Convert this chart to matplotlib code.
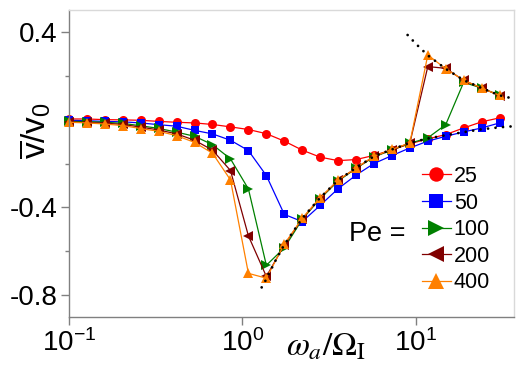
import matplotlib
matplotlib.use("Agg")
import matplotlib.pyplot as plt
from matplotlib.ticker import FixedLocator, NullLocator, NullFormatter

plt.rcParams['font.family'] = ['Liberation Sans', 'DejaVu Sans']
plt.rcParams['mathtext.fontset'] = 'custom'
plt.rcParams['mathtext.rm'] = 'Liberation Sans'
plt.rcParams['mathtext.it'] = 'Liberation Sans:italic'
plt.rcParams['mathtext.bf'] = 'Liberation Sans:bold'
plt.rcParams['axes.unicode_minus'] = False

# ---- data ----
omega = [0.1, 0.1269, 0.1611, 0.2045, 0.2595, 0.3294, 0.418, 0.531, 0.673, 0.855,
         1.085, 1.377, 1.748, 2.218, 2.815, 3.573, 4.535, 5.756, 7.305, 9.272,
         11.77, 14.93, 18.95, 24.06, 30.53]

pe_labels = ['25', '50', '100', '200', '400']

v_pe25 = [0.003, 0.003, 0.0, -0.001, -0.003, -0.008, -0.012, -0.015, -0.022, -0.033,
          -0.045, -0.064, -0.098, -0.139, -0.171, -0.187, -0.182, -0.163, -0.138, -0.11,
          -0.088, -0.068, -0.038, -0.010, 0.008]
v_pe50 = [-0.003, -0.005, -0.008, -0.010, -0.015, -0.023, -0.030, -0.049, -0.065, -0.094,
          -0.141, -0.255, -0.432, -0.465, -0.391, -0.315, -0.253, -0.200, -0.164, -0.129,
          -0.098, -0.076, -0.056, -0.038, -0.015]
v_pe100 = [-0.008, -0.009, -0.012, -0.017, -0.028, -0.040, -0.057, -0.076, -0.114, -0.179,
           -0.316, -0.664, -0.585, -0.455, -0.360, -0.280, -0.222, -0.170, -0.138, -0.108,
           -0.083, -0.023, 0.170, 0.144, 0.111]
v_pe200 = [-0.011, -0.013, -0.016, -0.022, -0.034, -0.047, -0.065, -0.094, -0.139, -0.232,
           -0.530, -0.715, -0.572, -0.452, -0.357, -0.277, -0.221, -0.168, -0.137, -0.107,
           0.242, 0.234, 0.179, 0.144, 0.110]
v_pe400 = [-0.012, -0.015, -0.020, -0.027, -0.041, -0.053, -0.073, -0.104, -0.153, -0.275,
           -0.701, -0.723, -0.568, -0.450, -0.356, -0.276, -0.220, -0.167, -0.136, -0.106,
           0.295, 0.232, 0.180, 0.144, 0.111]

theory_low_w = [1.294, 1.377, 1.55, 1.748, 2.218, 2.815, 3.573, 4.535, 5.756, 7.305,
                9.272, 11.77, 14.93, 18.95, 24.06, 30.53, 37.0]
theory_low_v = [-0.765, -0.727, -0.645, -0.570, -0.450, -0.356, -0.276, -0.220, -0.167,
                -0.136, -0.106, -0.086, -0.071, -0.057, -0.044, -0.035, -0.030]
theory_up_w = [9.0, 10.1, 11.77, 14.93, 18.95, 24.06, 30.53, 37.0]
theory_up_v = [0.386, 0.344, 0.293, 0.232, 0.180, 0.144, 0.111, 0.095]

yticks_major = [0.4, -0.4, -0.8]
ytick_labels = ['0.4', '-0.4', '-0.8']
yticks_minor = [0.2, 0.0, -0.2, -0.6]
xticks = [0.1, 1, 10]
xtick_labels = [r'$\mathregular{10^{-1}}$', r'$\mathregular{10^{0}}$', r'$\mathregular{10^{1}}$']

series = [v_pe25, v_pe50, v_pe100, v_pe200, v_pe400]
colors = ['#ff0000', '#0000ff', '#008000', '#800000', '#ff8000']
markers = ['o', 's', '>', '<', '^']
msizes = [6.5, 6.0, 7.0, 7.0, 7.0]

# ---- figure ----
fig = plt.figure(figsize=(5.23, 3.72), dpi=100)
ax = fig.add_axes([69/523, 55/372, 445/523, 307/372])
ax.set_xscale('log')

handles = []
for vals, c, m, ms, lab in zip(series, colors, markers, msizes, pe_labels):
    h, = ax.plot(omega, vals, color=c, marker=m, markersize=ms, linewidth=0.9,
                 markeredgewidth=0, label=lab, clip_on=False)
    handles.append(h)

for tw, tv in [(theory_low_w, theory_low_v), (theory_up_w, theory_up_v)]:
    ax.plot(tw, tv, color='black', linewidth=2.0, linestyle=(0, (0.01, 2.7)),
            dash_capstyle='round', zorder=5)

ax.set_xlim(0.1, 37.0)
ax.set_ylim(-0.9, 0.5)

ax.xaxis.set_major_locator(FixedLocator(xticks))
ax.set_xticklabels(xtick_labels)
ax.xaxis.set_minor_locator(NullLocator())
ax.xaxis.set_minor_formatter(NullFormatter())
ax.set_yticks(yticks_major)
ax.set_yticklabels(ytick_labels)
ax.yaxis.set_minor_locator(FixedLocator(yticks_minor))

ax.tick_params(which='major', direction='out', length=6, width=1, color='#808080',
               labelsize=20)
ax.tick_params(which='minor', direction='out', length=3, width=1, color='#808080')
ax.tick_params(axis='y', pad=2)
ax.tick_params(axis='x', pad=3)

for s in ['left', 'bottom']:
    ax.spines[s].set_color('#808080')
    ax.spines[s].set_linewidth(1)
for s in ['top', 'right']:
    ax.spines[s].set_color('#d9d9d9')
    ax.spines[s].set_linewidth(1)

# axis labels
fig.text(326/523, (372-355)/372, r'$\omega_a/\Omega_{\rm I}$', fontsize=24,
         math_fontfamily='stix', ha='center', va='baseline')
fig.text(35/523, (372-130)/372, r'$\overline{\mathrm{v}}/\mathrm{v}_0$', fontsize=24,
         rotation=90, ha='center', va='center')

fig.text(349/523, (372-241)/372, 'Pe =', fontsize=19.5, ha='left', va='baseline')

leg = ax.legend(handles=handles, loc='upper left',
                bbox_to_anchor=(422/523, (372-166)/372), bbox_transform=fig.transFigure,
                frameon=False, fontsize=15.5, handlelength=1.33, handletextpad=0.15,
                labelspacing=0.26, borderpad=0, borderaxespad=0, markerscale=1.6)

fig.savefig('out.png', dpi=100)
